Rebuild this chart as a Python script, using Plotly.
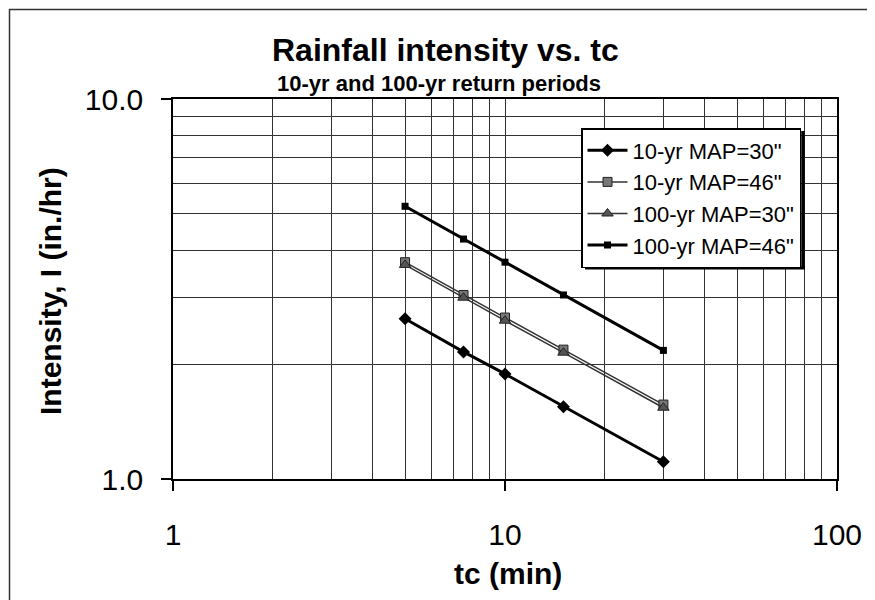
import plotly.graph_objects as go

# ---- data ----
tc_min = [5, 7.5, 10, 15, 30]
i_10yr_map30 = [2.64, 2.16, 1.89, 1.55, 1.11]
i_10yr_map46 = [3.72, 3.05, 2.66, 2.19, 1.57]
i_100yr_map30 = [3.66, 3.00, 2.61, 2.15, 1.54]
i_100yr_map46 = [5.22, 4.28, 3.72, 3.05, 2.18]

x_major = [1, 10, 100]
x_major_text = ["1", "10", "100"]
y_major = [1, 10]
y_major_text = ["1.0", "10.0"]
x_minor = [2, 3, 4, 5, 6, 7, 8, 9, 20, 30, 40, 50, 60, 70, 80, 90]
y_minor = [2, 3, 4, 5, 6, 7, 8, 9]

FONT = "Liberation Sans, Arial, sans-serif"

# page geometry (px); the page body adds an 8px offset
OFF = 8
PAGE_W, PAGE_H = 875, 600
W, H = PAGE_W - OFF, PAGE_H - OFF
PL, PR, PT, PB = 173, 837, 99, 479          # plot area edges in page px
L, R, T, B = PL - OFF, W - (PR - OFF), PT - OFF, H - (PB - OFF)
PW, PH = PR - PL, PB - PT

def px(xp):
    return (xp - PL) / PW

def py(yp):
    return (PB - yp) / PH

fig = go.Figure()
fig.add_trace(go.Scatter(
    x=tc_min, y=i_10yr_map30, name='10-yr MAP=30"', mode="lines+markers",
    line=dict(color="#000000", width=3),
    marker=dict(symbol="diamond", size=10, color="#000000")))
fig.add_trace(go.Scatter(
    x=tc_min, y=i_10yr_map46, name='10-yr MAP=46"', mode="lines+markers",
    line=dict(color="#333333", width=1.5),
    marker=dict(symbol="square", size=9, color="#777777", line=dict(color="#222222", width=1))))
fig.add_trace(go.Scatter(
    x=tc_min, y=i_100yr_map30, name='100-yr MAP=30"', mode="lines+markers",
    line=dict(color="#333333", width=1.5),
    marker=dict(symbol="triangle-up", size=10, color="#555555", line=dict(color="#222222", width=1))))
fig.add_trace(go.Scatter(
    x=tc_min, y=i_100yr_map46, name='100-yr MAP=46"', mode="lines+markers",
    line=dict(color="#000000", width=3),
    marker=dict(symbol="square", size=7, color="#000000")))

axis_common = dict(
    type="log",
    tickmode="array",
    showgrid=True, gridcolor="#333333", gridwidth=1,
    showline=True, linecolor="#000000", linewidth=1.5, mirror=True,
    ticks="outside", ticklen=10, tickcolor="#000000", tickwidth=1.5,
    tickfont=dict(family=FONT, size=30, color="#000000"),
    zeroline=False,
)

fig.update_xaxes(
    **axis_common,
    range=[0, 2],
    tickvals=x_major, ticktext=x_major_text,
    ticklabelstandoff=18,
    minor=dict(tickmode="array", tickvals=x_minor, showgrid=True,
               gridcolor="#333333", gridwidth=1, ticks=""),
)
fig.update_yaxes(
    **axis_common,
    range=[0, 1],
    tickvals=y_major, ticktext=y_major_text,
    ticklabelstandoff=12,
    minor=dict(tickmode="array", tickvals=y_minor, showgrid=True,
               gridcolor="#333333", gridwidth=1, ticks=""),
)

annotations = [
    dict(text="<b>Rainfall intensity vs. tc</b>", x=px(445), y=py(50),
         font=dict(family=FONT, size=32, color="#000000")),
    dict(text="<b>10-yr and 100-yr return periods</b>", x=px(439), y=py(83),
         font=dict(family=FONT, size=22, color="#000000")),
    dict(text="<b>tc (min)</b>", x=px(508), y=py(573),
         font=dict(family=FONT, size=30, color="#000000")),
    dict(text="<b>Intensity, I (in./hr)</b>", x=px(50), y=py(291), textangle=-90,
         font=dict(family=FONT, size=30, color="#000000")),
]
for a in annotations:
    a.update(xref="paper", yref="paper", showarrow=False, xanchor="center", yanchor="middle")

shapes = [
    # outer chart frame (top and left edges visible)
    dict(type="line", xref="paper", yref="paper",
         x0=px(9), x1=px(880), y0=py(9.5), y1=py(9.5),
         line=dict(color="#333333", width=1.5)),
    dict(type="line", xref="paper", yref="paper",
         x0=px(9.5), x1=px(9.5), y0=py(9), y1=py(610),
         line=dict(color="#333333", width=1.5)),
    # legend shadow (right and bottom)
    dict(type="line", xref="paper", yref="paper",
         x0=px(803), x1=px(803), y0=py(131), y1=py(269),
         line=dict(color="#000000", width=3.5)),
    dict(type="line", xref="paper", yref="paper",
         x0=px(585), x1=px(805), y0=py(268), y1=py(268),
         line=dict(color="#000000", width=3)),
]

fig.update_layout(
    width=W, height=H,
    margin=dict(l=L, r=R, t=T, b=B),
    paper_bgcolor="#ffffff", plot_bgcolor="#ffffff",
    showlegend=True,
    legend=dict(
        x=px(581), y=py(128), xanchor="left", yanchor="top",
        bgcolor="#ffffff", bordercolor="#000000", borderwidth=1.5,
        font=dict(family=FONT, size=22, color="#000000"),
        itemwidth=40, tracegroupgap=0,
    ),
    annotations=annotations,
    shapes=shapes,
)

fig.write_html("out.html")
